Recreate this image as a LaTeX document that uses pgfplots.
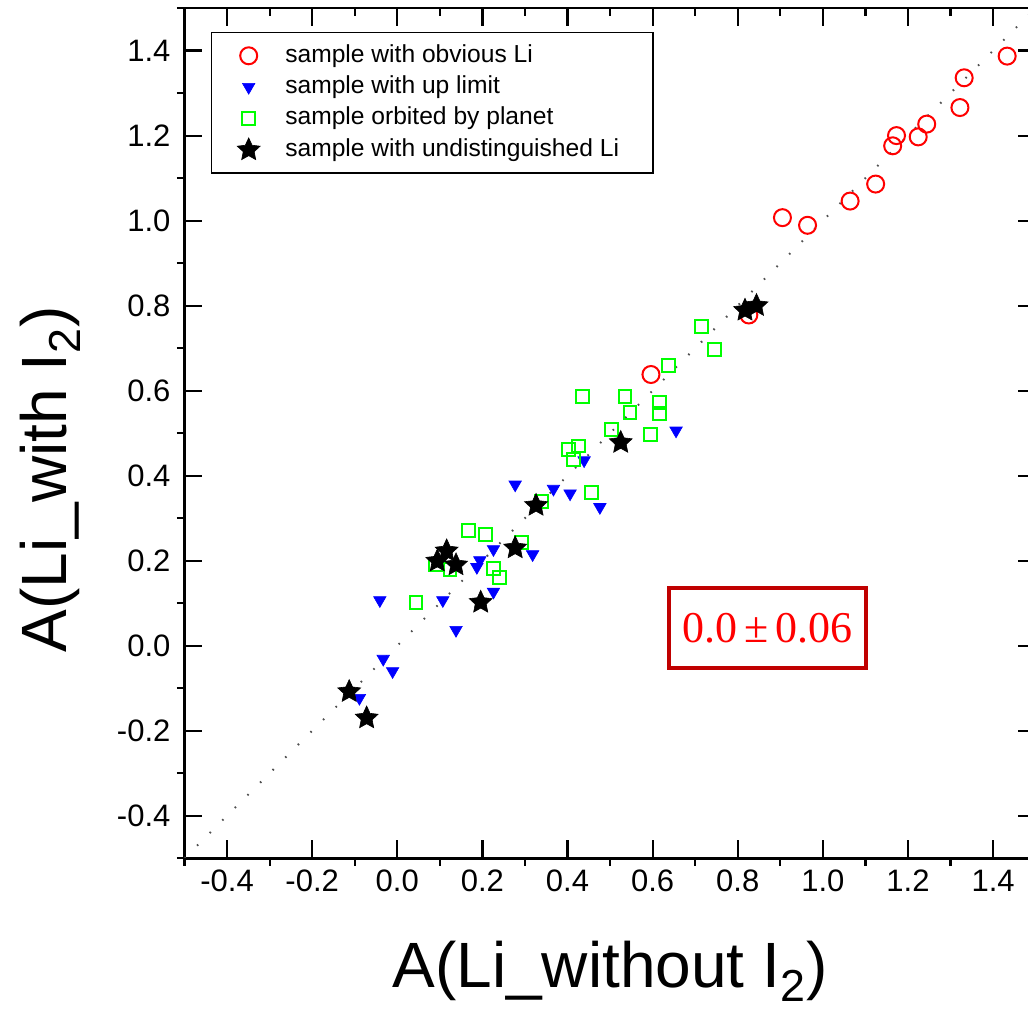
\documentclass[border=0pt]{standalone}
\usepackage{pgfplots}
\pgfplotsset{compat=1.18}
\usepackage{fontspec}
\setmainfont{Liberation Sans}
\newfontfamily\notefont{Liberation Serif}

\definecolor{ptred}{RGB}{255,0,0}
\definecolor{ptblue}{RGB}{0,0,255}
\definecolor{ptgreen}{RGB}{0,255,0}
\definecolor{boxred}{RGB}{192,0,0}
\definecolor{fitgray}{RGB}{80,80,80}

% filled five-pointed star
\pgfdeclareplotmark{fstar}{%
  \pgfpathmoveto{\pgfpointpolar{90}{\pgfplotmarksize}}%
  \pgfpathlineto{\pgfpointpolar{126}{0.48*\pgfplotmarksize}}%
  \pgfpathlineto{\pgfpointpolar{162}{\pgfplotmarksize}}%
  \pgfpathlineto{\pgfpointpolar{198}{0.48*\pgfplotmarksize}}%
  \pgfpathlineto{\pgfpointpolar{234}{\pgfplotmarksize}}%
  \pgfpathlineto{\pgfpointpolar{270}{0.48*\pgfplotmarksize}}%
  \pgfpathlineto{\pgfpointpolar{306}{\pgfplotmarksize}}%
  \pgfpathlineto{\pgfpointpolar{342}{0.48*\pgfplotmarksize}}%
  \pgfpathlineto{\pgfpointpolar{18}{\pgfplotmarksize}}%
  \pgfpathlineto{\pgfpointpolar{54}{0.48*\pgfplotmarksize}}%
  \pgfpathclose
  \pgfusepathqfillstroke}

\pgfplotsset{
  frame/.style={
    scale only axis, width=425.5pt, height=425pt,
    xmin=-0.5, xmax=1.5, ymin=-0.5, ymax=1.5,
  },
  minorticks/.style={
    frame,
    xtick={-0.5,-0.3,-0.1,0.1,0.3,0.5,0.7,0.9,1.1,1.3,1.5},
    ytick={-0.5,-0.3,-0.1,0.1,0.3,0.5,0.7,0.9,1.1,1.3,1.5},
    xticklabels={}, yticklabels={},
    axis line style={draw=none},
    major tick length=3.8pt,
    tick style={black, line width=1.1pt},
  },
}

\begin{document}
\begin{tikzpicture}
\begin{axis}[
  frame,
  xtick={-0.4,-0.2,0,0.2,0.4,0.6,0.8,1.0,1.2,1.4},
  ytick={-0.4,-0.2,0,0.2,0.4,0.6,0.8,1.0,1.2,1.4},
  tick align=inside, major tick length=9pt,
  tick style={black, line width=1.1pt},
  axis line style={line width=1.3pt},
  ticklabel style={font=\fontsize{15.5}{19}\selectfont},
  xticklabel style={yshift=-2.5pt},
  yticklabel style={xshift=-3.5pt},
  /pgf/number format/.cd, fixed, fixed zerofill, precision=1, assume math mode=true,
  /pgfplots/.cd,
  xlabel={A(Li\_without I\textsubscript{2})},
  ylabel={A(Li\_with I\textsubscript{2})},
  xlabel style={font=\fontsize{32}{38}\selectfont, at={(axis description cs:0.5,-0.133)}, anchor=center},
  ylabel style={font=\fontsize{32}{38}\selectfont, at={(axis description cs:-0.158,0.446)}, anchor=center},
  legend style={at={(axis description cs:0.031,0.972)}, anchor=north west,
    draw=black, line width=0.8pt, inner xsep=12.8pt, inner ysep=5.8pt,
    font=\fontsize{12.3}{15}\selectfont,
    nodes={inner sep=0pt, text height=9pt, text depth=2.5pt},
    row sep=4.1pt, column sep=12.6pt},
  legend cell align=left,
]
% one-to-one line
\addplot[fitgray, line width=1pt, dash pattern=on 0.8pt off 8.1pt, forget plot]
  coordinates {(-0.5,-0.5) (1.5,1.5)};

\addplot[only marks, mark=o, mark size=4.25pt, mark options={draw=ptred, line width=1pt}]
  coordinates {
  (1.433,1.387) (1.332,1.336) (1.322,1.266) (1.244,1.227) (1.224,1.197)
  (1.173,1.200) (1.164,1.176) (1.124,1.086) (1.064,1.046) (0.964,0.989)
  (0.905,1.007) (0.826,0.778) (0.596,0.638)
  };
\addlegendentry{sample with obvious Li}

\addplot[only marks, mark=triangle*, mark size=3.6pt, mark options={rotate=180, fill=ptblue, draw=ptblue, line width=0.3pt}]
  coordinates {
  (-0.089,-0.123) (-0.033,-0.031) (-0.011,-0.060) (-0.041,0.107) (0.107,0.107)
  (0.138,0.037) (0.187,0.185) (0.194,0.201) (0.226,0.227) (0.226,0.127)
  (0.318,0.215) (0.277,0.379) (0.367,0.369) (0.406,0.358) (0.476,0.326)
  (0.439,0.436) (0.655,0.506)
  };
\addlegendentry{sample with up limit}

\addplot[only marks, mark=square, mark size=3.2pt, mark options={draw=ptgreen, line width=1pt}]
  coordinates {
  (0.044,0.102) (0.089,0.192) (0.124,0.180) (0.167,0.271) (0.208,0.262)
  (0.226,0.181) (0.240,0.160) (0.291,0.243) (0.338,0.339) (0.403,0.461)
  (0.414,0.438) (0.425,0.470) (0.436,0.586) (0.457,0.360) (0.504,0.508)
  (0.535,0.586) (0.547,0.549) (0.595,0.496) (0.616,0.573) (0.616,0.547)
  (0.637,0.660) (0.715,0.750) (0.746,0.697)
  };
\addlegendentry{sample orbited by planet}

\addplot[only marks, mark=fstar, mark size=6pt, mark options={fill=black, draw=black, line width=0.3pt}]
  coordinates {
  (-0.113,-0.108) (-0.072,-0.170) (0.094,0.199) (0.116,0.223) (0.138,0.190)
  (0.196,0.102) (0.277,0.230) (0.326,0.330) (0.525,0.478) (0.817,0.789)
  (0.844,0.800)
  };
\addlegendentry{sample with undistinguished Li\hspace*{4.2pt}}

\node[draw=boxred, line width=2pt, text=ptred, inner sep=0pt,
  minimum width=98.5pt, minimum height=40pt,
  font=\notefont\fontsize{22}{26}\selectfont]
  at (axis cs:0.870,0.042) {0.0\,±\,0.06};

\coordinate (bbsw) at (axis cs:-0.9335,-0.865);
\coordinate (bbne) at (axis cs:1.482,1.519);
\end{axis}

% minor ticks: inside on top and right
\begin{axis}[minorticks, tick align=inside, xtick pos=right, ytick pos=right]
\end{axis}
% minor ticks: outside on bottom and left
\begin{axis}[minorticks, tick align=outside, xtick pos=left, ytick pos=left]
\end{axis}

\pgfresetboundingbox
\useasboundingbox (bbsw) rectangle (bbne);
\end{tikzpicture}
\end{document}
